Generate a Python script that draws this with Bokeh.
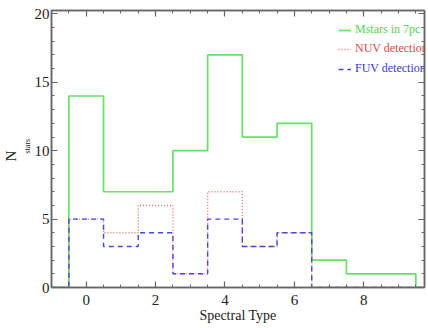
import numpy as np
from bokeh.plotting import figure
from bokeh.models import (Range1d, LinearAxis, Legend, LegendItem, Title,
                          SingleIntervalTicker, CustomLabelingPolicy)
from bokeh.embed import file_html
from bokeh.resources import INLINE

# ---- data ----
spectral_type = [-1, 0, 1, 2, 3, 4, 5, 6, 7, 8, 9, 10]
n_mstars = [0, 14, 7, 7, 10, 17, 11, 12, 2, 1, 1, 0]
n_nuv = [0, 5, 4, 6, 1, 7, 3, 4, 0, 0, 0, 0]
n_fuv = [0, 5, 3, 4, 1, 5, 3, 4, 0, 0, 0, 0]
series_labels = ["Mstars in 7pc", "NUV detections", "FUV detections"]

FONT = "Liberation Serif"
AX = "#666666"
TXT = "#222222"

p = figure(width=428, height=328, output_backend="svg", toolbar_location=None,
           x_range=Range1d(-1, 9.75), y_range=Range1d(0, 20.25),
           min_border_left=51, min_border_top=10, min_border_bottom=41,
           min_border_right=0)
p.xgrid.visible = False
p.ygrid.visible = False
p.outline_line_color = AX
p.outline_line_width = 1.5
p.background_fill_color = "white"
p.border_fill_color = "white"

xt = SingleIntervalTicker(interval=2, num_minor_ticks=4)
yt = SingleIntervalTicker(interval=5, num_minor_ticks=5)

bottom = p.below[0]
left = p.left[0]
bottom.ticker = xt
left.ticker = yt

top = LinearAxis(ticker=xt)
right = LinearAxis(ticker=yt)
p.add_layout(top, "above")
p.add_layout(right, "right")

for ax in [bottom, left, top, right]:
    ax.axis_line_color = AX
    ax.axis_line_width = 1.5
    ax.major_tick_line_color = AX
    ax.minor_tick_line_color = AX
    ax.major_tick_line_width = 1.2
    ax.minor_tick_line_width = 1.0
    ax.major_tick_in = 6
    ax.major_tick_out = 0
    ax.minor_tick_in = 3
    ax.minor_tick_out = 0
    ax.major_label_text_font = FONT
    ax.major_label_text_font_size = "15px"
    ax.major_label_text_color = TXT

bottom.major_label_standoff = 7
left.major_label_standoff = 2
bottom.axis_label = "Spectral Type"
bottom.axis_label_text_font = FONT
bottom.axis_label_text_font_size = "14px"
bottom.axis_label_text_font_style = "normal"
bottom.axis_label_text_color = TXT
bottom.axis_label_standoff = 0

hide_all = CustomLabelingPolicy(code="for (const i of indices) indices.unset(i); return indices")
for ax in [top, right]:
    ax.major_label_text_font_size = "1px"
    ax.major_label_standoff = 0
    ax.major_label_policy = hide_all

r_m = p.step(spectral_type, n_mstars, mode="center", line_color="#66e266",
             line_width=1.7)
r_n = p.step(spectral_type, n_nuv, mode="center", line_color="#e87272",
             line_width=1.4, line_dash="1 2")
r_f = p.step(spectral_type, n_fuv, mode="center", line_color="#4848d8",
             line_width=1.4, line_dash="5 4")

legend_colors = ["#4fd84f", "#e04848", "#3a3acc"]
legend_locs = [(287, 250), (287, 231), (287, 211)]
for lab, r, col, loc in zip(series_labels, [r_m, r_n, r_f], legend_colors, legend_locs):
    lg = Legend(items=[LegendItem(label=lab, renderers=[r])], location=loc,
                label_text_color=col, label_text_font=FONT,
                label_text_font_size="12px", border_line_alpha=0,
                background_fill_alpha=0, glyph_width=13, glyph_height=10,
                label_standoff=4, padding=0, margin=0, label_height=12,
                spacing=0)
    p.add_layout(lg)

t_stars = Title(text="stars", align="left", offset=134, standoff=0,
                text_font=FONT, text_font_size="8px", text_font_style="normal",
                text_color=TXT)
t_n = Title(text="N", align="left", offset=126, standoff=0,
            vertical_align="top",
            text_font=FONT, text_font_size="15px", text_font_style="normal",
            text_color=TXT)
p.add_layout(t_stars, "left")
p.add_layout(t_n, "left")

open("out.html", "w").write(file_html(p, INLINE))
